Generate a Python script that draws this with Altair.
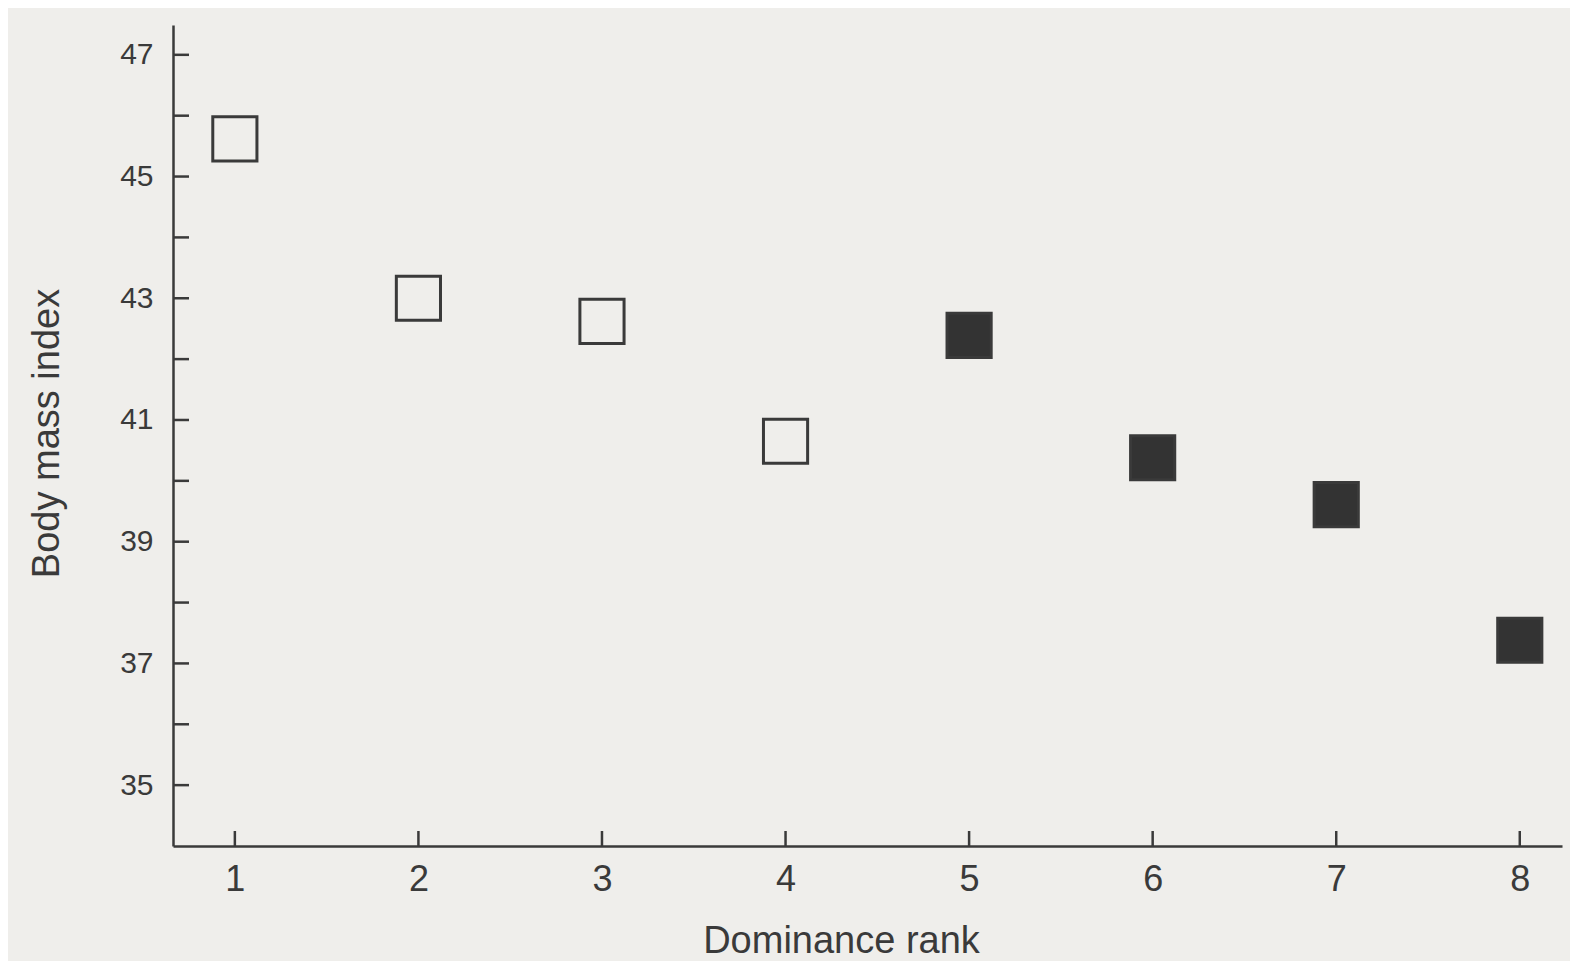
import altair as alt
import pandas as pd

# Data
ranks = [1, 2, 3, 4, 5, 6, 7, 8]
bmi = [45.62, 43.0, 42.62, 40.65, 42.39, 40.38, 39.61, 37.38]
groups = ["open", "open", "open", "open", "filled", "filled", "filled", "filled"]
y_tick_values = [35, 36, 37, 38, 39, 40, 41, 42, 43, 44, 45, 46, 47]
y_label_values = [35, 37, 39, 41, 43, 45, 47]
x_tick_values = [1, 2, 3, 4, 5, 6, 7, 8]

df = pd.DataFrame({"rank": ranks, "bmi": bmi, "group": groups})
yt = pd.DataFrame({"rank": x_tick_values[:1] * len(y_tick_values), "bmi": y_tick_values})
xt = pd.DataFrame({"rank": x_tick_values, "bmi": [y_tick_values[0]] * len(x_tick_values)})

BG = "#efeeeb"
INK = "#3a3a3a"
W, H = 1389, 821

xscale = alt.Scale(domain=[0.663, 8.23], nice=False, zero=False)
yscale = alt.Scale(domain=[34, 47.49], nice=False, zero=False)

xaxis = alt.Axis(
    title="Dominance rank", values=x_tick_values, format="d", ticks=False, grid=False,
    domainColor=INK, domainWidth=2.5, labelFont="Liberation Sans", labelFontSize=36,
    labelColor=INK, labelPadding=16, titleFont="Liberation Sans", titleFontSize=38,
    titleFontWeight="normal", titleColor=INK, titleX=668, titleY=106,
    titleBaseline="alphabetic", titleAlign="center")
yaxis = alt.Axis(
    title="Body mass index", values=y_label_values, format="d", ticks=False, grid=False,
    domainColor=INK, domainWidth=2.5, labelFont="Liberation Sans", labelFontSize=30,
    labelColor=INK, labelPadding=20, titleFont="Liberation Sans", titleFontSize=38,
    titleFontWeight="normal", titleColor=INK, titleAngle=-90, titleX=-115, titleY=408,
    titleBaseline="alphabetic", titleAlign="center")

points = alt.Chart(df).mark_point(shape="square", size=1950, strokeWidth=3, opacity=1).encode(
    x=alt.X("rank:Q", scale=xscale, axis=xaxis),
    y=alt.Y("bmi:Q", scale=yscale, axis=yaxis),
    fill=alt.Fill("group:N", scale=alt.Scale(domain=["open", "filled"], range=["transparent", "#333333"]), legend=None),
    stroke=alt.value("#3a3a3a"),
)

ytick = alt.Chart(yt).mark_rule(color=INK, strokeWidth=2.5).encode(
    y=alt.Y("bmi:Q", scale=yscale, axis=yaxis),
    x=alt.value(0), x2=alt.value(16),
)
xtick = alt.Chart(xt).mark_rule(color=INK, strokeWidth=2.5).encode(
    x=alt.X("rank:Q", scale=xscale, axis=xaxis),
    y=alt.value(H), y2=alt.value(H - 15),
)

chart = alt.layer(points, ytick, xtick).properties(
    width=W, height=H, background=BG,
    autosize=alt.AutoSizeParams(type="none"),
    padding={"left": 165, "top": 17, "right": 8, "bottom": 115},
).configure_view(stroke=None)

chart.save("out.html", embed_options={"renderer": "svg", "actions": False})
